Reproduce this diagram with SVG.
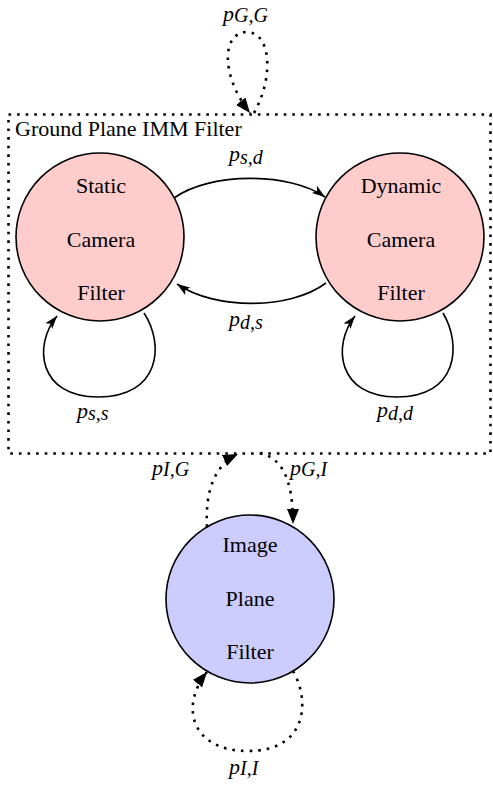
<svg xmlns="http://www.w3.org/2000/svg" width="493" height="789" viewBox="0 0 493 789">
<style>
.node{stroke:#000;stroke-width:1.6}
.pink{fill:#ffcccc}
.blue{fill:#ccccff}
.nt{font-family:"Liberation Serif","Times New Roman",serif;font-size:22px;fill:#000;text-anchor:middle}
.gt{font-family:"Liberation Serif","Times New Roman",serif;font-size:22px;fill:#000}
.lbl{font-family:"Liberation Serif","Times New Roman",serif;font-style:italic;font-size:22px;fill:#000}
.sub{font-size:20px}
.solid{fill:none;stroke:#000;stroke-width:1.6;marker-end:url(#arr)}
.dot{fill:none;stroke:#000;stroke-width:2.6;stroke-dasharray:2.6 6}
.dota{marker-end:url(#darr)}
</style>
<defs>
<marker id="arr" markerUnits="userSpaceOnUse" markerWidth="14" markerHeight="10" refX="13" refY="5" orient="auto">
<path d="M0,0.5 L13,5 L0,9.5 L3,5 z" fill="#000"/>
</marker>
<marker id="darr" markerUnits="userSpaceOnUse" markerWidth="16" markerHeight="12" refX="15" refY="6" orient="auto">
<path d="M0,0 L15,6 L0,12 z" fill="#000"/>
</marker>
</defs>
<g id="ground">
<rect class="dot" x="8.5" y="114.5" width="482" height="339"/>
<text class="gt" x="15" y="136">Ground Plane IMM Filter</text>
</g>
<g id="static">
<circle class="node pink" cx="100" cy="237" r="84"/>
<text class="nt" x="101" y="193">Static</text>
<text class="nt" x="101" y="247">Camera</text>
<text class="nt" x="101" y="300">Filter</text>
</g>
<g id="dynamic">
<circle class="node pink" cx="400" cy="237" r="84"/>
<text class="nt" x="401" y="193">Dynamic</text>
<text class="nt" x="401" y="247">Camera</text>
<text class="nt" x="401" y="300">Filter</text>
</g>
<g id="image">
<circle class="node blue" cx="250" cy="599" r="84"/>
<text class="nt" x="250" y="552">Image</text>
<text class="nt" x="250" y="606">Plane</text>
<text class="nt" x="250" y="659">Filter</text>
</g>
<g id="connectors">
<path class="solid" d="M174,198 C210,172 290,172 325,197"/>
<path class="solid" d="M326,283 C290,310 215,310 177,284"/>
<path class="solid" d="M144,313 C165,345 160,397 98,397 C38,397 33,345 57,316"/>
<path class="solid" d="M443,313 C462,345 458,397 397,397 C337,397 332,345 355,316"/>
<path class="dot dota" d="M254,113 C275,75 270,32 247,32 C222,32 220,75 250,113"/>
<path class="dot dota" d="M207,527 C205,490 215,465 238,454"/>
<path class="dot dota" d="M260,453 C280,458 293,475 293,524"/>
<path class="dot dota" d="M293,671 C310,700 308,751 248,751 C190,751 180,705 207,672"/>
</g>
<g id="labels">
<text class="lbl" x="223" y="21">p<tspan class="sub" dy="1">G,G</tspan></text>
<text class="lbl" x="229" y="161">p<tspan class="sub" dy="3">s,d</tspan></text>
<text class="lbl" x="229" y="326">p<tspan class="sub" dy="3">d,s</tspan></text>
<text class="lbl" x="77" y="418">p<tspan class="sub" dy="2">s,s</tspan></text>
<text class="lbl" x="377" y="417">p<tspan class="sub" dy="3">d,d</tspan></text>
<text class="lbl" x="152" y="475">p<tspan class="sub" dy="1">I,G</tspan></text>
<text class="lbl" x="290" y="475">p<tspan class="sub" dy="1">G,I</tspan></text>
<text class="lbl" x="229" y="774">p<tspan class="sub" dy="1">I,I</tspan></text>
</g>
</svg>
